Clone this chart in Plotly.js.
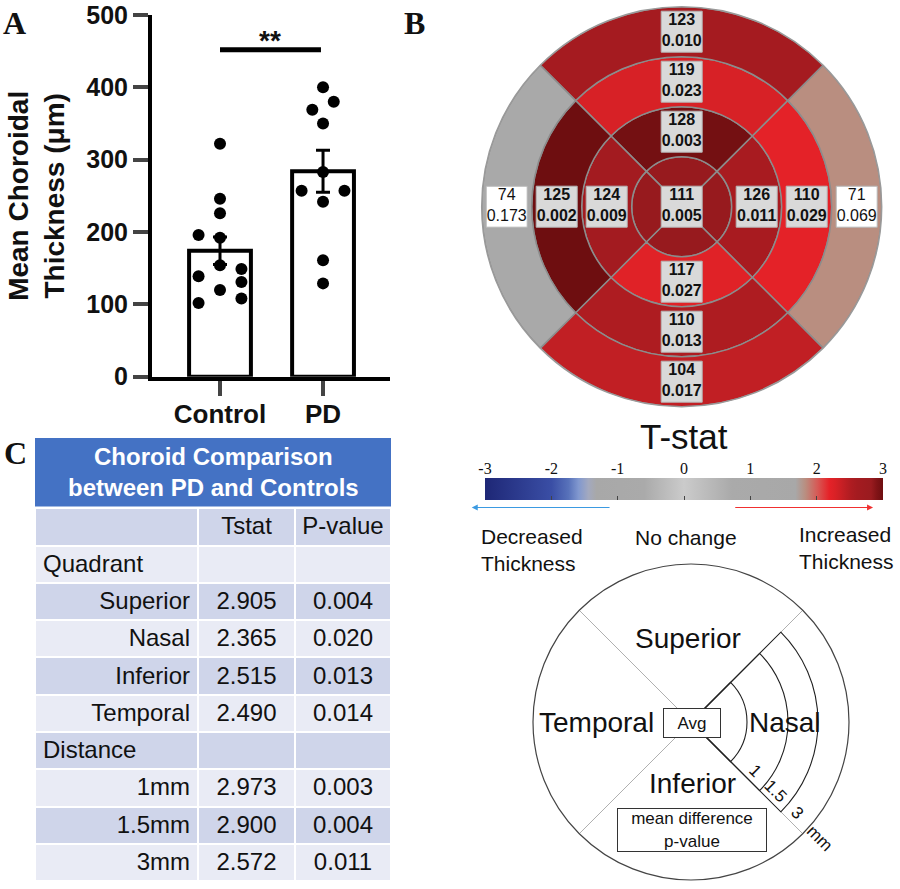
<!DOCTYPE html>
<html><head><meta charset="utf-8">
<script src="https://cdn.plot.ly/plotly-3.0.1.min.js"></script>
<style>html,body{margin:0;padding:0;background:#fff}#chart{width:900px;height:889px}</style>
</head><body><div id="chart"></div>
<script>
// ---------------- Panel A data ----------------
const groups = ['Control', 'PD'];
const groupMeans = [174, 284];
const groupSEM = [19, 29];
const controlValues = [322, 246, 226, 196, 192, 154, 139, 149, 131, 120, 102, 108];
const controlColumn = [0, 0, 0, -2, 0, 0, -2, 2, 2, 0, -2, 2];
const pdValues = [400, 380, 369, 350, 283, 257, 257, 242, 161, 129];
const pdColumn = [0, 1, -1, 0, 0, -2, 2, 0, 0, 0];
const sigLabel = '**';
const sigLevel = 452;

// ---------------- Panel B data ----------------
const sectors = ['Superior', 'Nasal', 'Inferior', 'Temporal'];
const sectorAngle = [90, 0, 270, 180];
const centerMean = 111, centerP = 0.005, centerT = 2.83;
const ring1Mean = [128, 126, 117, 124];
const ring1P = [0.003, 0.011, 0.027, 0.009];
const ring1T = [2.97, 2.57, 2.23, 2.64];
const ring2Mean = [119, 110, 110, 125];
const ring2P = [0.023, 0.029, 0.013, 0.002];
const ring2T = [2.29, 2.20, 2.52, 3.10];
const ring3Mean = [123, 71, 104, 74];
const ring3P = [0.010, 0.069, 0.017, 0.173];
const ring3T = [2.60, 1.83, 2.41, 1.37];
const cbTicks = [-3, -2, -1, 0, 1, 2, 3];

// ---------------- Panel C data ----------------
const tableRows = ['Quadrant', 'Superior', 'Nasal', 'Inferior', 'Temporal', 'Distance', '1mm', '1.5mm', '3mm'];
const tableTstat = [null, 2.905, 2.365, 2.515, 2.490, null, 2.973, 2.900, 2.572];
const tableP = [null, 0.004, 0.020, 0.013, 0.014, null, 0.003, 0.004, 0.011];
const tableHeader = ['', 'Tstat', 'P-value'];

// ---------------- helpers ----------------
const W = 900, H = 889;
const px = x => x / W;
const py = y => 1 - y / H;
const SANS = 'Arial, "Liberation Sans", sans-serif';
const SERIF = '"Times New Roman", "Liberation Serif", serif';
const COLSTEP = 0.104;

// Panel A traces
const barTrace = {
  type: 'bar', x: [0, 1], y: groupMeans, width: 0.6,
  marker: {color: 'white', line: {color: 'black', width: 4}},
  error_y: {type: 'data', array: groupSEM, color: 'black', thickness: 3, width: 7},
  xaxis: 'x', yaxis: 'y', hoverinfo: 'skip'
};
const dotsCtrl = {
  type: 'scatter', mode: 'markers',
  x: controlColumn.map(c => 0 + c * COLSTEP), y: controlValues,
  marker: {color: 'black', size: 12}, xaxis: 'x', yaxis: 'y', hoverinfo: 'skip'
};
const dotsPD = {
  type: 'scatter', mode: 'markers',
  x: pdColumn.map(c => 1 + c * COLSTEP), y: pdValues,
  marker: {color: 'black', size: 12}, xaxis: 'x', yaxis: 'y', hoverinfo: 'skip'
};

// Panel B cells
const rings = [
  {mean: [centerMean], p: [centerP], t: sectors.map(() => centerT)},
  {mean: ring1Mean, p: ring1P, t: ring1T},
  {mean: ring2Mean, p: ring2P, t: ring2T},
  {mean: ring3Mean, p: ring3P, t: ring3T}
];
const cellTheta = [], cellBase = [], cellR = [], cellT = [];
rings.forEach((ring, k) => ring.t.forEach((t, i) => {
  cellTheta.push(sectorAngle[i]); cellBase.push(k); cellR.push(1); cellT.push(t);
}));

const colorscale = [
  [0, '#1e2776'], [0.167, '#3a4ea5'], [0.21, '#5872ba'], [0.235, '#8198cf'],
  [0.26, '#a3a9bf'], [0.28, '#a8a8a8'], [0.4, '#aaaaaa'], [0.5, '#cbcbcb'],
  [0.62, '#aaaaaa'], [0.78, '#a8a8a8'], [0.805, '#b98e80'], [0.835, '#d65a56'],
  [0.865, '#e52228'], [0.88, '#d92126'], [0.9, '#c31f24'], [0.92, '#ae1c21'],
  [0.935, '#a41b20'], [0.97, '#9a1b1f'], [0.985, '#801316'], [1, '#6e0e10']
];

const heatTrace = {
  type: 'barpolar', subplot: 'polar',
  r: cellR, base: cellBase, theta: cellTheta, width: cellTheta.map(() => 90),
  marker: {
    color: cellT, colorscale: colorscale, cmin: -3, cmax: 3, showscale: true,
    line: {color: '#8c8c8c', width: 1.5},
    colorbar: {
      orientation: 'h', x: px(485), xanchor: 'left', y: py(478), yanchor: 'top',
      len: 398, lenmode: 'pixels', thickness: 22, thicknessmode: 'pixels',
      xpad: 0, ypad: 0, outlinewidth: 0, showticklabels: false,
      ticks: 'inside', ticklen: 4, tickcolor: '#444', tickvals: cbTicks,
      bgcolor: 'rgba(0,0,0,0)'
    }
  },
  hoverinfo: 'skip'
};

// labels
const labR = [], labTheta = [], labText = [], labFill = [];
rings.forEach((ring, k) => ring.mean.forEach((m, i) => {
  labR.push(k === 0 ? 0 : k + 0.5);
  labTheta.push(sectorAngle[i]);
  const p = ring.p[i];
  const sig = p < 0.05;
  labText.push(sig ? '<b>' + m + '</b><br><b>' + p.toFixed(3) + '</b>' : m + '<br>' + p.toFixed(3));
  labFill.push(sig ? '#d9d9d9' : '#ffffff');
}));
const labelTrace = {
  type: 'scatterpolar', subplot: 'polar', mode: 'markers+text',
  r: labR, theta: labTheta, text: labText, textposition: 'middle center',
  textfont: {family: SANS, size: 16, color: '#111'},
  marker: {symbol: 'square', size: 41, color: labFill, line: {color: '#b5b5b5', width: 1}},
  hoverinfo: 'skip', cliponaxis: false
};

// schematic
const schemRings = [56, 97, 127];
const schemTrace = {
  type: 'barpolar', subplot: 'polar2',
  r: schemRings, base: schemRings.map(() => 0), theta: schemRings.map(() => 0),
  width: schemRings.map(() => 90),
  marker: {color: 'rgba(0,0,0,0)', line: {color: '#222', width: 1.1}},
  hoverinfo: 'skip'
};

// table
const darkRow = '#cfd5ea', lightRow = '#e9ebf5';
const rowFills = tableRows.map((_, i) => i % 2 === 0 ? lightRow : darkRow);
const fmt = v => v === null ? '' : v.toFixed(3);
const labelAlign = tableRows.map(r => (r === 'Quadrant' || r === 'Distance') ? 'left' : 'right');
const tableTrace = {
  type: 'table',
  domain: {x: [px(35), px(391)], y: [0, py(508.3)]},
  columnwidth: [163, 97, 96],
  header: {
    values: tableHeader, height: 37.3, align: 'center',
    fill: {color: darkRow}, line: {color: 'white', width: 2},
    font: {family: SANS, size: 24, color: '#111'}
  },
  cells: {
    values: [tableRows, tableTstat.map(fmt), tableP.map(fmt)],
    height: 37.3, align: [labelAlign, 'center', 'center'],
    fill: {color: [rowFills, rowFills, rowFills]}, line: {color: 'white', width: 2},
    font: {family: SANS, size: 24, color: '#111'}
  }
};

const ann = (text, x, y, o) => Object.assign({text, x: px(x), y: py(y), xref: 'paper', yref: 'paper', showarrow: false, xanchor: 'center', yanchor: 'middle', font: {family: SANS, size: 28, color: '#111'}}, o || {});

const layout = {
  width: W, height: H, margin: {l: 0, r: 0, t: 0, b: 0},
  paper_bgcolor: 'white', plot_bgcolor: 'rgba(0,0,0,0)', showlegend: false,
  font: {family: SANS, color: '#111'},
  xaxis: {
    domain: [px(152), px(390)], range: [-0.66, 1.65], anchor: 'y',
    tickvals: [0, 1], ticktext: groups, ticks: 'outside', ticklen: 15, tickwidth: 4,
    showline: true, linewidth: 4, linecolor: 'black', showgrid: false, zeroline: false,
    ticklabelstandoff: -4,
    tickfont: {family: SANS, size: 26, weight: 'bold', color: '#111'}
  },
  yaxis: {
    domain: [py(376.7), py(15)], range: [0, 500], anchor: 'x',
    tickvals: [0, 100, 200, 300, 400, 500], ticks: 'outside', ticklen: 15, tickwidth: 4,
    showline: true, linewidth: 4, linecolor: 'black', showgrid: false, zeroline: false,
    tickfont: {family: SANS, size: 25, weight: 'bold', color: '#111'},
    title: {text: 'Mean Choroidal<br>Thickness (μm)', font: {family: SANS, size: 28, weight: 'bold', color: '#111'}, standoff: 14}
  },
  xaxis3: {
    domain: [px(485), px(883)], anchor: 'y3', side: 'top', range: [-3, 3],
    tickvals: cbTicks, ticktext: cbTicks.map(String), ticks: '', showline: false,
    showgrid: false, zeroline: false,
    tickfont: {family: SERIF, size: 16, color: '#111'}
  },
  yaxis3: {domain: [py(500), py(478)], anchor: 'x3', visible: false, range: [0, 1]},
  polar: {
    domain: {x: [px(481.7), px(881.7)], y: [py(406.7), py(6.7)]},
    bgcolor: 'rgba(0,0,0,0)', barmode: 'overlay',
    radialaxis: {visible: false, range: [0, 4]},
    angularaxis: {showline: true, linecolor: '#9a9a9a', linewidth: 1.5, showgrid: false, ticks: '', showticklabels: false}
  },
  polar2: {
    domain: {x: [px(533), px(849)], y: [py(880), py(564)]},
    bgcolor: 'white', barmode: 'overlay',
    radialaxis: {visible: false, range: [0, 158]},
    angularaxis: {tickvals: [45, 135, 225, 315], showgrid: true, gridcolor: '#b0b0b0', gridwidth: 1,
      showline: true, linecolor: '#444', linewidth: 1.2, ticks: '', showticklabels: false}
  },
  shapes: [
    {type: 'line', xref: 'x', yref: 'y', x0: 0, x1: 0.98, y0: sigLevel, y1: sigLevel, line: {color: 'black', width: 5}},
    {type: 'rect', xref: 'paper', yref: 'paper', x0: px(35), x1: px(391), y0: py(506.5), y1: py(438), fillcolor: '#4472c4', line: {width: 0}, layer: 'below'}
  ],
  annotations: [
    {text: sigLabel, xref: 'x', yref: 'y', x: 0.49, y: sigLevel, yanchor: 'bottom', yshift: -8, showarrow: false, font: {family: SANS, size: 28, weight: 'bold', color: '#111'}},
    ann('A', 14, 23, {font: {family: SERIF, size: 32, weight: 'bold', color: '#111'}}),
    ann('B', 414, 23, {font: {family: SERIF, size: 32, weight: 'bold', color: '#111'}}),
    ann('C', 15, 453, {font: {family: SERIF, size: 32, weight: 'bold', color: '#111'}}),
    ann('Choroid Comparison<br>between PD and Controls', 213, 472, {font: {family: SANS, size: 24, weight: 'bold', color: 'white'}}),
    ann('T-stat', 684, 437, {font: {family: SANS, size: 35, color: '#111'}}),
    {text: '', xref: 'x3', yref: 'paper', x: -3.2, y: py(507.5), axref: 'x3', ax: -1.1, ayref: 'pixel', ay: 0,
     showarrow: true, arrowhead: 2, arrowsize: 1, arrowwidth: 1.2, arrowcolor: '#3b9ae1', standoff: 0},
    {text: '', xref: 'x3', yref: 'paper', x: 2.85, y: py(507.5), axref: 'x3', ax: 0.75, ayref: 'pixel', ay: 0,
     showarrow: true, arrowhead: 2, arrowsize: 1, arrowwidth: 1.2, arrowcolor: '#f03030', standoff: 0},
    ann('Decreased<br>Thickness', 479, 550, {xanchor: 'left', align: 'left', font: {family: SANS, size: 21, color: '#111'}}),
    ann('No change', 686, 537, {font: {family: SANS, size: 21, color: '#111'}}),
    ann('Increased<br>Thickness', 896, 548, {xanchor: 'right', align: 'left', font: {family: SANS, size: 21, color: '#111'}}),
    ann('Superior', 688, 638),
    ann('Nasal', 785, 722),
    ann('Temporal', 596, 722),
    ann('Inferior', 692, 783),
    ann('Avg', 691.7, 723.3, {font: {family: SANS, size: 17, color: '#111'}, bgcolor: 'white', bordercolor: '#333', borderwidth: 1, borderpad: 0, width: 56, height: 28}),
    ann('mean difference<br>p-value', 691.7, 830, {font: {family: SANS, size: 17, color: '#111'}, bgcolor: 'white', bordercolor: '#333', borderwidth: 1, borderpad: 0, width: 148, height: 42}),
    ann('1', 755, 770, {textangle: 45, font: {family: SANS, size: 17, color: '#111'}}),
    ann('1.5', 776, 791, {textangle: 45, font: {family: SANS, size: 17, color: '#111'}}),
    ann('3', 797, 812, {textangle: 45, font: {family: SANS, size: 17, color: '#111'}}),
    ann('mm', 820, 838, {textangle: 45, font: {family: SANS, size: 17, color: '#111'}})
  ]
};

Plotly.newPlot('chart', [barTrace, dotsCtrl, dotsPD, heatTrace, labelTrace, schemTrace, tableTrace], layout, {staticPlot: true, displayModeBar: false});
</script>
</body></html>
